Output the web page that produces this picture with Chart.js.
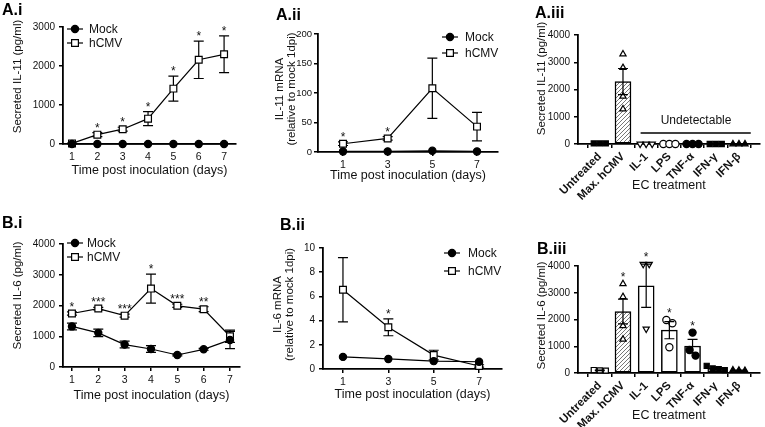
<!DOCTYPE html>
<html>
<head>
<meta charset="UTF-8">
<title>IL-11 / IL-6 secretion after hCMV</title>
<script src="https://cdn.jsdelivr.net/npm/chart.js@4.4.0/dist/chart.umd.min.js"></script>
<style>
  body { margin:0; background:#fff; }
  #wrap { position:relative; width:765px; height:427px; overflow:hidden; font-family:"Liberation Sans", Arial, sans-serif; }
  #wrap canvas { position:absolute; }
  .tag { position:absolute; font-weight:bold; font-size:16px; color:#000; line-height:18px; }
</style>
</head>
<body>
<div id="wrap">
  <canvas id="a1" width="255" height="200" style="left:0;top:0"></canvas>
  <canvas id="a2" width="255" height="200" style="left:255px;top:0"></canvas>
  <canvas id="a3" width="255" height="200" style="left:510px;top:0"></canvas>
  <canvas id="b1" width="255" height="222" style="left:0;top:205px"></canvas>
  <canvas id="b2" width="255" height="222" style="left:255px;top:205px"></canvas>
  <canvas id="b3" width="255" height="222" style="left:510px;top:205px"></canvas>
  <div class="tag" style="left:2px;top:1px">A.i</div>
  <div class="tag" style="left:276px;top:6px">A.ii</div>
  <div class="tag" style="left:535px;top:4px">A.iii</div>
  <div class="tag" style="left:2px;top:214px">B.i</div>
  <div class="tag" style="left:280px;top:216px">B.ii</div>
  <div class="tag" style="left:537px;top:240px">B.iii</div>
</div>

<script>
// ---- data ----
const days7 = [1, 2, 3, 4, 5, 6, 7];
const days4 = [1, 3, 5, 7];
const treatments = ['Untreated', 'Max. hCMV', 'IL-1', 'LPS', 'TNF-\u03b1', 'IFN-\u03b3', 'IFN-\u03b2'];

// A.i secreted IL-11 (pg/ml)
const a1Mock = [0, 0, 0, 0, 0, 0, 0];
const a1Cmv = [15, 240, 380, 650, 1420, 2160, 2300];
const a1CmvErr = [10, 50, 50, 180, 320, 480, 470];
const a1Sig = ['', '*', '*', '*', '*', '*', '*'];
const a1Ticks = [0, 1000, 2000, 3000];

// A.ii IL-11 mRNA
const a2Mock = [1, 1, 2, 1];
const a2Cmv = [14, 23, 108, 43];
const a2CmvErr = [3, 3, 51, 24];
const a2Sig = ['*', '*', '', ''];
const a2Ticks = [0, 50, 100, 150, 200];

// A.iii secreted IL-11 by treatment
const a3Mean = [20, 2290, 0, 0, 0, 0, 0];
const a3Err = [5, 480, 0, 0, 0, 0, 0];
const a3Reps = [[20, 20, 20], [3300, 2800, 1750, 1280], [0, 0, 0], [0, 0, 0], [0, 0, 0], [0, 0, 0], [0, 0, 0]];
const a3Sig = ['', '', '', '', '', '', ''];
const a3Ticks = [0, 1000, 2000, 3000, 4000];

// B.i secreted IL-6 (pg/ml)
const b1Mock = [1320, 1110, 730, 585, 390, 575, 880];
const b1MockErr = [110, 120, 110, 110, 30, 30, 280];
const b1Cmv = [1740, 1900, 1670, 2550, 1990, 1880, 1000];
const b1CmvErr = [50, 40, 50, 470, 50, 80, 200];
const b1Sig = ['*', '***', '***', '*', '***', '**', ''];
const b1Ticks = [0, 1000, 2000, 3000, 4000];

// B.ii IL-6 mRNA
const b2Mock = [1.0, 0.83, 0.65, 0.6];
const b2Cmv = [6.55, 3.45, 1.15, 0.25];
const b2CmvErr = [2.65, 0.7, 0.4, 0.1];
const b2Sig = ['', '*', '', ''];
const b2Ticks = [0, 2, 4, 6, 8, 10];

// B.iii secreted IL-6 by treatment
const b3Mean = [100, 2300, 3260, 1600, 1010, 170, 100];
const b3Err = [10, 460, 810, 320, 250, 40, 10];
const b3Reps = [[110, 100, 90], [3330, 2850, 1760, 1260], [4070, 4070, 1650], [1980, 1860, 960], [1510, 860, 650], [270, 170, 140, 110], [110, 100, 90]];
const b3Sig = ['', '*', '*', '*', '*', '', ''];
const b3Ticks = [0, 1000, 2000, 3000, 4000];

// ---- styling ----
const FONT = '"Liberation Sans", Arial, sans-serif';
Chart.defaults.font.family = FONT;
Chart.defaults.color = '#111';

// marker per treatment
const MARKS = [
  { style: 'rect', fill: false }, { style: 'triangle', fill: false },
  { style: 'triangle', fill: false, rot: 180 }, { style: 'circle', fill: false },
  { style: 'circle', fill: true }, { style: 'rect', fill: true }, { style: 'triangle', fill: true }
];
// in A.iii the untreated squares are solid
const MARKS_A3 = MARKS.map((m, i) => i === 0 ? { style: 'rect', fill: true } : m);

function hatch() {
  const c = document.createElement('canvas');
  c.width = c.height = 4;
  const g = c.getContext('2d');
  g.fillStyle = '#fff'; g.fillRect(0, 0, 4, 4);
  g.strokeStyle = '#777'; g.lineWidth = 1;
  g.beginPath();
  g.moveTo(0, 4); g.lineTo(4, 0);
  g.moveTo(-1, 1); g.lineTo(1, -1);
  g.moveTo(3, 5); g.lineTo(5, 3);
  g.stroke();
  return g.createPattern(c, 'repeat');
}

// spread replicate points sideways when they sit close together
function spread(vals, top) {
  const idx = vals.map((v, i) => i).sort((a, b) => vals[b] - vals[a]);
  const off = vals.map(() => 0);
  let grp = [idx[0]];
  const flush = () => grp.forEach((k, j) => { off[k] = (j - (grp.length - 1) / 2) * 0.26; });
  for (let j = 1; j < idx.length; j++) {
    if (vals[grp[grp.length - 1]] - vals[idx[j]] < top * 0.06) grp.push(idx[j]);
    else { flush(); grp = [idx[j]]; }
  }
  flush();
  return off;
}

function mark(ctx, style, x, y, r, fill) {
  ctx.save();
  ctx.beginPath();
  if (style === 'circle') ctx.arc(x, y, r, 0, Math.PI * 2);
  else { const s = r * Math.SQRT1_2; ctx.rect(x - s, y - s, 2 * s, 2 * s); }
  ctx.fillStyle = fill ? '#000' : '#fff';
  ctx.fill();
  ctx.lineWidth = 1.2; ctx.strokeStyle = '#000';
  ctx.stroke();
  ctx.restore();
}

// ---- plugins ----
function drawErr(chart) {
  const ctx = chart.ctx, xs = chart.scales.x, ys = chart.scales.y;
  ctx.save();
  ctx.strokeStyle = '#000'; ctx.lineWidth = 1.2;
  chart.data.datasets.forEach(ds => {
    if (!ds.err) return;
    ds.data.forEach((p, i) => {
      const e = ds.err[i];
      if (!e) return;
      const x = xs.getPixelForValue(p.x);
      const y1 = ys.getPixelForValue(p.y + e);
      const y2 = ys.getPixelForValue(Math.max(p.y - e, 0));
      const w = 5;
      ctx.beginPath();
      ctx.moveTo(x, y1); ctx.lineTo(x, y2);
      ctx.moveTo(x - w, y1); ctx.lineTo(x + w, y1);
      ctx.moveTo(x - w, y2); ctx.lineTo(x + w, y2);
      ctx.stroke();
    });
  });
  ctx.restore();
}

const errBars = {
  id: 'errBars',
  beforeDatasetsDraw(chart, args, o) { if (!o.after) drawErr(chart); },
  afterDatasetsDraw(chart, args, o) { if (o.after) drawErr(chart); }
};

const stars = {
  id: 'stars',
  afterDraw(chart, args, o) {
    const ctx = chart.ctx, xs = chart.scales.x, ys = chart.scales.y;
    ctx.save();
    ctx.font = '12px ' + FONT;
    ctx.fillStyle = '#111'; ctx.textAlign = 'center'; ctx.textBaseline = 'alphabetic';
    chart.data.datasets.forEach(ds => {
      if (!ds.sig) return;
      ds.data.forEach((p, i) => {
        if (!ds.sig[i]) return;
        let top = p.y + (ds.err ? ds.err[i] : 0);
        if (ds.reps) top = Math.max(top, ...ds.reps[i]);
        ctx.fillText(ds.sig[i], xs.getPixelForValue(p.x), ys.getPixelForValue(top) - o.gap);
      });
    });
    ctx.restore();
  }
};

const miniLegend = {
  id: 'miniLegend',
  afterDraw(chart, args, o) {
    if (!o.items) return;
    const ctx = chart.ctx;
    o.items.forEach(it => {
      const ds = chart.data.datasets[it.ds];
      ctx.save();
      ctx.strokeStyle = '#000'; ctx.lineWidth = 1.2;
      ctx.beginPath(); ctx.moveTo(it.x - 8, it.y); ctx.lineTo(it.x + 8, it.y); ctx.stroke();
      ctx.restore();
      mark(ctx, ds.pointStyle, it.x, it.y, ds.pointRadius, ds.pointBackgroundColor === '#000');
      ctx.save();
      ctx.font = '12px ' + FONT; ctx.fillStyle = '#111';
      ctx.textAlign = 'left'; ctx.textBaseline = 'middle';
      ctx.fillText(ds.label, o.textX, it.y + 0.5);
      ctx.restore();
    });
  }
};

const yTitle = {
  id: 'yTitle',
  afterDraw(chart, args, o) {
    if (!o.lines) return;
    const ctx = chart.ctx, ca = chart.chartArea;
    const cy = (ca.top + ca.bottom) / 2 + o.dy;
    ctx.save();
    ctx.font = '11.5px ' + FONT; ctx.fillStyle = '#111';
    ctx.textAlign = 'center'; ctx.textBaseline = 'middle';
    o.lines.forEach((t, i) => {
      ctx.save();
      ctx.translate(o.x + i * 12, cy);
      ctx.rotate(-Math.PI / 2);
      ctx.fillText(t, 0, 0);
      ctx.restore();
    });
    ctx.restore();
  }
};

const note = {
  id: 'note',
  afterDraw(chart, args, o) {
    if (!o.text) return;
    const ctx = chart.ctx, xs = chart.scales.x, ys = chart.scales.y;
    const y = ys.getPixelForValue(o.lineY);
    ctx.save();
    ctx.strokeStyle = '#000'; ctx.lineWidth = 1.6;
    ctx.beginPath();
    ctx.moveTo(xs.getPixelForValue(o.x0), y); ctx.lineTo(xs.getPixelForValue(o.x1), y);
    ctx.stroke();
    ctx.font = '12px ' + FONT; ctx.fillStyle = '#111';
    ctx.textAlign = 'center'; ctx.textBaseline = 'middle';
    ctx.fillText(o.text, xs.getPixelForValue(o.tx), ys.getPixelForValue(o.ty));
    ctx.restore();
  }
};

// ---- chart builders ----
function axisBase() {
  return {
    grid: { display: true, drawOnChartArea: false, drawTicks: true, tickLength: 4, color: '#000', lineWidth: 1.5 },
    border: { display: true, color: '#000', width: 1.8 }
  };
}

function lineSet(label, xs, ys, err, sig, circle) {
  return {
    label: label,
    data: xs.map((x, i) => ({ x: x, y: ys[i] })),
    err: err, sig: sig,
    borderColor: '#000', borderWidth: 1.2, tension: 0, clip: false,
    pointStyle: circle ? 'circle' : 'rect',
    pointRadius: circle ? 3.6 : 4.8,
    pointBackgroundColor: circle ? '#000' : '#fff',
    pointBorderColor: '#000', pointBorderWidth: 1.2
  };
}

function yAxis(a, ticks, size, pad) {
  return Object.assign(axisBase(), {
    type: 'linear', min: 0, max: ticks[ticks.length - 1],
    afterBuildTicks: s => { s.ticks = ticks.map(v => ({ value: v })); },
    afterFit: s => { s.width = a.l; },
    ticks: { font: { size: size || 10 }, color: '#111', padding: pad == null ? 4 : pad, callback: v => String(v) }
  });
}

function makeLine(id, p) {
  const a = p.area;
  return new Chart(document.getElementById(id), {
    type: 'line',
    data: { datasets: p.sets },
    plugins: [errBars, stars, miniLegend, yTitle],
    options: {
      responsive: false, animation: false,
      layout: { padding: { left: 0, top: a.t, right: p.W - a.r, bottom: 0 } },
      plugins: {
        legend: { display: false }, tooltip: { enabled: false },
        errBars: { after: false }, stars: { gap: 1 },
        miniLegend: p.legend, yTitle: p.yTitle
      },
      scales: {
        x: Object.assign(axisBase(), {
          type: 'linear', min: p.xMin, max: p.xMax,
          afterBuildTicks: s => { s.ticks = p.days.map(v => ({ value: v })); },
          afterFit: s => { s.height = p.H - a.b; },
          ticks: { font: { size: 10.5 }, color: '#111', padding: 3, maxRotation: 0, autoSkip: false, callback: v => String(v) },
          title: { display: true, text: 'Time post inoculation (days)', font: { size: 12.5 }, color: '#111', padding: { top: 0, bottom: p.xPad } }
        }),
        y: yAxis(a, p.yTicks, p.yTickSize, p.yTickPad)
      }
    }
  });
}

function makeBar(id, p) {
  const a = p.area;
  const top = p.yTicks[p.yTicks.length - 1];
  const sets = [];
  p.reps.forEach((vals, i) => {
    const off = spread(vals, top);
    const m = p.marks[i];
    sets.push({
      type: 'scatter', order: 1, clip: false,
      data: vals.map((v, k) => ({ x: i + off[k], y: v })),
      pointStyle: m.style, pointRotation: m.rot || 0, pointRadius: 3.6,
      pointBackgroundColor: m.fill ? '#000' : '#fff', pointBorderColor: '#000', pointBorderWidth: 1.2
    });
  });
  sets.push({
    type: 'bar', order: 2, clip: false,
    data: p.mean.map((v, i) => ({ x: i, y: v })),
    err: p.err, sig: p.sig, reps: p.reps,
    backgroundColor: p.mean.map((v, i) => i === 1 ? hatch() : '#fff'),
    borderColor: '#000', borderWidth: 1.5, borderSkipped: false, barThickness: 16
  });
  return new Chart(document.getElementById(id), {
    type: 'bar',
    data: { datasets: sets },
    plugins: [errBars, stars, yTitle, note],
    options: {
      responsive: false, animation: false,
      layout: { padding: { left: 0, top: a.t, right: p.W - a.r, bottom: 0 } },
      plugins: {
        legend: { display: false }, tooltip: { enabled: false },
        errBars: { after: true }, stars: { gap: 3 },
        yTitle: p.yTitle, note: p.note || {}
      },
      scales: {
        x: Object.assign(axisBase(), {
          type: 'linear', min: -0.94, max: 6.9, offset: false,
          afterBuildTicks: s => { s.ticks = treatments.map((t, i) => ({ value: i })); },
          afterFit: s => { s.height = p.H - a.b; },
          ticks: { font: { size: 11.5, weight: 'bold' }, color: '#111', padding: 2, minRotation: 45, maxRotation: 45, autoSkip: false, callback: v => treatments[v] || '' },
          title: { display: true, text: 'EC treatment', font: { size: 12.5 }, color: '#111', padding: { top: 0, bottom: p.xPad } }
        }),
        y: yAxis(a, p.yTicks)
      }
    }
  });
}

// ---- panels ----
makeLine('a1', {
  W: 255, H: 200, area: { l: 63, r: 236, t: 27, b: 144 },
  days: days7, xMin: 0.645, xMax: 7.47, yTicks: a1Ticks, xPad: 22,
  sets: [lineSet('Mock', days7, a1Mock, null, null, true), lineSet('hCMV', days7, a1Cmv, a1CmvErr, a1Sig, false)],
  legend: { textX: 89, items: [{ ds: 0, x: 75, y: 29 }, { ds: 1, x: 75, y: 43 }] },
  yTitle: { lines: ['Secreted IL-11 (pg/ml)'], x: 18, dy: -9 }
});

makeLine('a2', {
  W: 255, H: 200, area: { l: 63, r: 243, t: 34, b: 152 },
  days: days4, xMin: -0.12, xMax: 7.94, yTicks: a2Ticks, xPad: 17, yTickSize: 9.5, yTickPad: 2,
  sets: [lineSet('Mock', days4, a2Mock, null, null, true), lineSet('hCMV', days4, a2Cmv, a2CmvErr, a2Sig, false)],
  legend: { textX: 210, items: [{ ds: 0, x: 195, y: 37 }, { ds: 1, x: 195, y: 53 }] },
  yTitle: { lines: ['IL-11 mRNA', '(relative to mock 1dpi)'], x: 25, dy: -4 }
});

makeBar('a3', {
  W: 255, H: 200, area: { l: 68, r: 251, t: 35, b: 144 },
  yTicks: a3Ticks, xPad: 7, marks: MARKS_A3,
  mean: a3Mean, err: a3Err, reps: a3Reps, sig: a3Sig,
  yTitle: { lines: ['Secreted IL-11 (pg/ml)'], x: 32, dy: -11 },
  note: { text: 'Undetectable', x0: 1.76, x1: 6.51, lineY: 404, tx: 4.15, ty: 844 }
});

makeLine('b1', {
  W: 255, H: 222, area: { l: 63, r: 240, t: 39, b: 162 },
  days: days7, xMin: 0.66, xMax: 7.38, yTicks: b1Ticks, xPad: 24,
  sets: [lineSet('Mock', days7, b1Mock, b1MockErr, null, true), lineSet('hCMV', days7, b1Cmv, b1CmvErr, b1Sig, false)],
  legend: { textX: 87, items: [{ ds: 0, x: 75, y: 38 }, { ds: 1, x: 75, y: 52 }] },
  yTitle: { lines: ['Secreted IL-6 (pg/ml)'], x: 18, dy: -10 }
});

makeLine('b2', {
  W: 255, H: 222, area: { l: 68, r: 247, t: 43, b: 164 },
  days: days4, xMin: 0.12, xMax: 8.01, yTicks: b2Ticks, xPad: 25,
  sets: [lineSet('Mock', days4, b2Mock, null, null, true), lineSet('hCMV', days4, b2Cmv, b2CmvErr, b2Sig, false)],
  legend: { textX: 213, items: [{ ds: 0, x: 197, y: 48 }, { ds: 1, x: 197, y: 66 }] },
  yTitle: { lines: ['IL-6 mRNA', '(relative to mock 1dpi)'], x: 23, dy: -4 }
});

makeBar('b3', {
  W: 255, H: 222, area: { l: 68, r: 251, t: 61, b: 168 },
  yTicks: b3Ticks, xPad: 4, marks: MARKS,
  mean: b3Mean, err: b3Err, reps: b3Reps, sig: b3Sig,
  yTitle: { lines: ['Secreted IL-6 (pg/ml)'], x: 32, dy: -4 }
});
</script>
</body>
</html>
